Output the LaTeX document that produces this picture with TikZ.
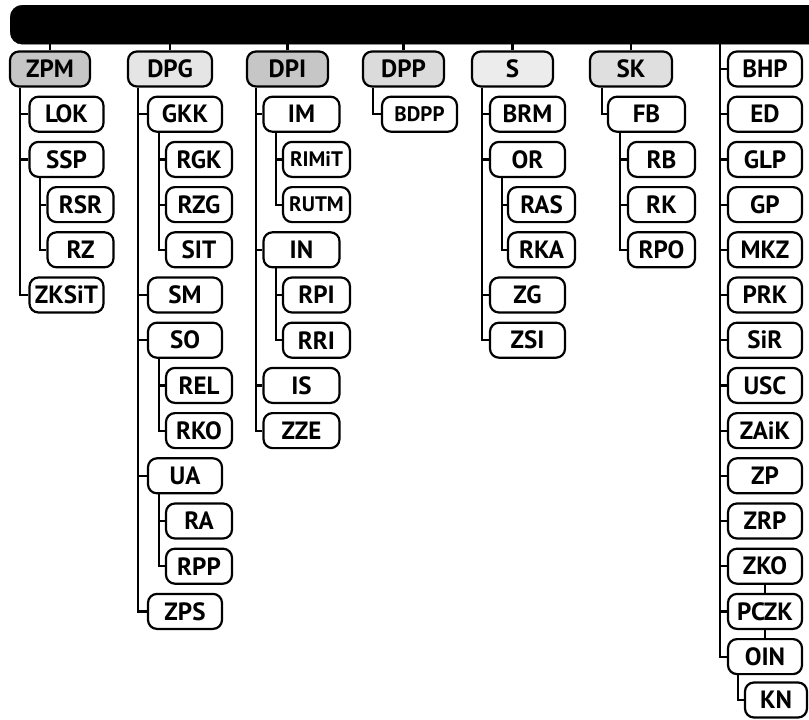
\documentclass[tikz,border=0pt]{standalone}
\usepackage{fontspec}
\setmainfont{PT Sans}
\begin{document}
\begin{tikzpicture}[x=1pt,y=-1pt,
  bx/.style={draw, line width=2.2pt, rounded corners=9pt, minimum height=35pt, inner sep=0pt,
    font=\fontsize{25}{26}\selectfont\bfseries},
  top/.style={bx, minimum width=81pt},
  wa/.style={bx, minimum width=74pt},
  wb/.style={bx, minimum width=66pt},
  sm/.style={font=\fontsize{21}{22}\selectfont\bfseries},
  ln/.style={line width=2.2pt}]
\useasboundingbox (0,0) rectangle (809,720);
\clip (0,0) rectangle (809,720);
% header bar
\node[fill=black, draw=black, rounded corners=12pt, minimum width=840pt, minimum height=39pt,
  inner sep=0pt, anchor=north west] (bar) at (10,5) {};
% ---------- ZPM column
\node[top, minimum width=80pt, fill=gray!45] (zpm) at (50,69) {ZPM};
\node[wa] (lok) at (66.5,114.2) {LOK};
\node[wa] (ssp) at (66.5,159.4) {SSP};
\node[wb] (rsr) at (80.5,204.6) {RSR};
\node[wb] (rz) at (80.5,249.8) {RZ};
\node[wa] (zksit) at (66.5,295) {ZKSiT};
\coordinate (a1) at (20,0); \coordinate (a2) at (40,0);
\draw[ln] (bar.south -| zpm.north) -- (zpm.north);
\draw[ln] (zpm.south -| a1) |- (zksit.west);
\draw[ln] (a1 |- lok.west) -- (lok.west);
\draw[ln] (a1 |- ssp.west) -- (ssp.west);
\draw[ln] (ssp.south -| a2) |- (rz.west);
\draw[ln] (a2 |- rsr.west) -- (rsr.west);
% ---------- DPG column
\node[top, minimum width=84pt, fill=gray!20] (dpg) at (170,69) {DPG};
\node[wa] (gkk) at (185,114.2) {GKK};
\node[wb] (rgk) at (199,159.4) {RGK};
\node[wb] (rzg) at (199,204.6) {RZG};
\node[wb] (sit) at (199,249.8) {SIT};
\node[wa] (smm) at (185,295) {SM};
\node[wa] (so) at (185,340.2) {SO};
\node[wb] (rel) at (199,385.4) {REL};
\node[wb] (rko) at (199,430.6) {RKO};
\node[wa] (ua) at (185,475.8) {UA};
\node[wb] (ra) at (199,521) {RA};
\node[wb] (rpp) at (199,566.2) {RPP};
\node[wa] (zps) at (185,611.4) {ZPS};
\coordinate (b1) at (138,0); \coordinate (b2) at (159,0);
\draw[ln] (bar.south -| dpg.north) -- (dpg.north);
\draw[ln] (dpg.south -| b1) |- (zps.west);
\foreach \n in {gkk,smm,so,ua} \draw[ln] (b1 |- \n.west) -- (\n.west);
\draw[ln] (gkk.south -| b2) |- (sit.west);
\foreach \n in {rgk,rzg} \draw[ln] (b2 |- \n.west) -- (\n.west);
\draw[ln] (so.south -| b2) |- (rko.west);
\draw[ln] (b2 |- rel.west) -- (rel.west);
\draw[ln] (ua.south -| b2) |- (rpp.west);
\draw[ln] (b2 |- ra.west) -- (ra.west);
% ---------- DPI column
\node[top, fill=gray!45] (dpi) at (287.5,69) {DPI};
\node[wa, minimum width=76pt] (im) at (301.5,114.2) {IM};
\node[wb, minimum width=67pt, sm] (rimit) at (316.5,159.4) {RIMiT};
\node[wb, minimum width=67pt, sm] (rutm) at (316.5,204.6) {RUTM};
\node[wa, minimum width=76pt] (in) at (301.5,249.8) {IN};
\node[wb, minimum width=67pt] (rpi) at (316.5,295) {RPI};
\node[wb, minimum width=67pt] (rri) at (316.5,340.2) {RRI};
\node[wa, minimum width=76pt] (is) at (301.5,385.4) {IS};
\node[wa, minimum width=76pt] (zze) at (301.5,430.6) {ZZE};
\coordinate (c1) at (256,0); \coordinate (c2) at (276,0);
\draw[ln] (bar.south -| dpi.north) -- (dpi.north);
\draw[ln] (dpi.south -| c1) |- (zze.west);
\foreach \n in {im,in,is} \draw[ln] (c1 |- \n.west) -- (\n.west);
\draw[ln] (im.south -| c2) |- (rutm.west);
\draw[ln] (c2 |- rimit.west) -- (rimit.west);
\draw[ln] (in.south -| c2) |- (rri.west);
\draw[ln] (c2 |- rpi.west) -- (rpi.west);
% ---------- DPP column
\node[top, fill=gray!28] (dpp) at (403.5,69) {DPP};
\node[wa, minimum width=75pt, sm] (bdpp) at (419.5,114.2) {BDPP};
\coordinate (d1) at (373,0);
\draw[ln] (bar.south -| dpp.north) -- (dpp.north);
\draw[ln] (dpp.south -| d1) |- (bdpp.west);
% ---------- S column
\node[top, fill=gray!15] (s) at (512.5,69) {S};
\node[wa, minimum width=75pt] (brm) at (527.5,114.2) {BRM};
\node[wa, minimum width=75pt] (or) at (527.5,159.4) {OR};
\node[wb, minimum width=67pt] (ras) at (541.5,204.6) {RAS};
\node[wb, minimum width=67pt] (rka) at (541.5,249.8) {RKA};
\node[wa, minimum width=75pt] (zg) at (527.5,295) {ZG};
\node[wa, minimum width=75pt] (zsi) at (527.5,340.2) {ZSI};
\coordinate (e1) at (482,0); \coordinate (e2) at (502,0);
\draw[ln] (bar.south -| s.north) -- (s.north);
\draw[ln] (s.south -| e1) |- (zsi.west);
\foreach \n in {brm,or,zg} \draw[ln] (e1 |- \n.west) -- (\n.west);
\draw[ln] (or.south -| e2) |- (rka.west);
\draw[ln] (e2 |- ras.west) -- (ras.west);
% ---------- SK column
\node[top, minimum width=82pt, fill=gray!25] (sk) at (631,69) {SK};
\node[wa, minimum width=77pt] (fb) at (646.5,114.2) {FB};
\node[wb, minimum width=67pt] (rb) at (661.5,159.4) {RB};
\node[wb, minimum width=67pt] (rk) at (661.5,204.6) {RK};
\node[wb, minimum width=67pt] (rpo) at (661.5,249.8) {RPO};
\coordinate (f1) at (602,0); \coordinate (f2) at (620,0);
\draw[ln] (bar.south -| sk.north) -- (sk.north);
\draw[ln] (sk.south -| f1) |- (fb.west);
\draw[ln] (fb.south -| f2) |- (rpo.west);
\foreach \n in {rb,rk} \draw[ln] (f2 |- \n.west) -- (\n.west);
% ---------- BHP column
\node[wa] (bhp) at (765,69) {BHP};
\node[wa] (ed) at (765,114.2) {ED};
\node[wa] (glp) at (765,159.4) {GLP};
\node[wa] (gp) at (765,204.6) {GP};
\node[wa] (mkz) at (765,249.8) {MKZ};
\node[wa] (prk) at (765,295) {PRK};
\node[wa] (sir) at (765,340.2) {SiR};
\node[wa] (usc) at (765,385.4) {USC};
\node[wa] (zaik) at (765,430.6) {ZAiK};
\node[wa] (zp) at (765,475.8) {ZP};
\node[wa] (zrp) at (765,521) {ZRP};
\node[wa] (zko) at (765,566.2) {ZKO};
\node[wa] (pczk) at (765,611.4) {PCZK};
\node[wa] (oin) at (765,656.6) {OIN};
\node[wb, minimum width=62pt] (kn) at (776,700) {KN};
\coordinate (h1) at (720,0); \coordinate (h2) at (738,0);
\draw[ln] (bar.south -| h1) |- (oin.west);
\foreach \n in {bhp,ed,glp,gp,mkz,prk,sir,usc,zaik,zp,zrp,zko,pczk}
  \draw[ln] (h1 |- \n.west) -- (\n.west);
\draw[ln] (zko.south) -- (pczk.north);
\draw[ln] (pczk.south) -- (oin.north);
\draw[ln] (oin.south -| h2) |- (kn.west);
\end{tikzpicture}
\end{document}
